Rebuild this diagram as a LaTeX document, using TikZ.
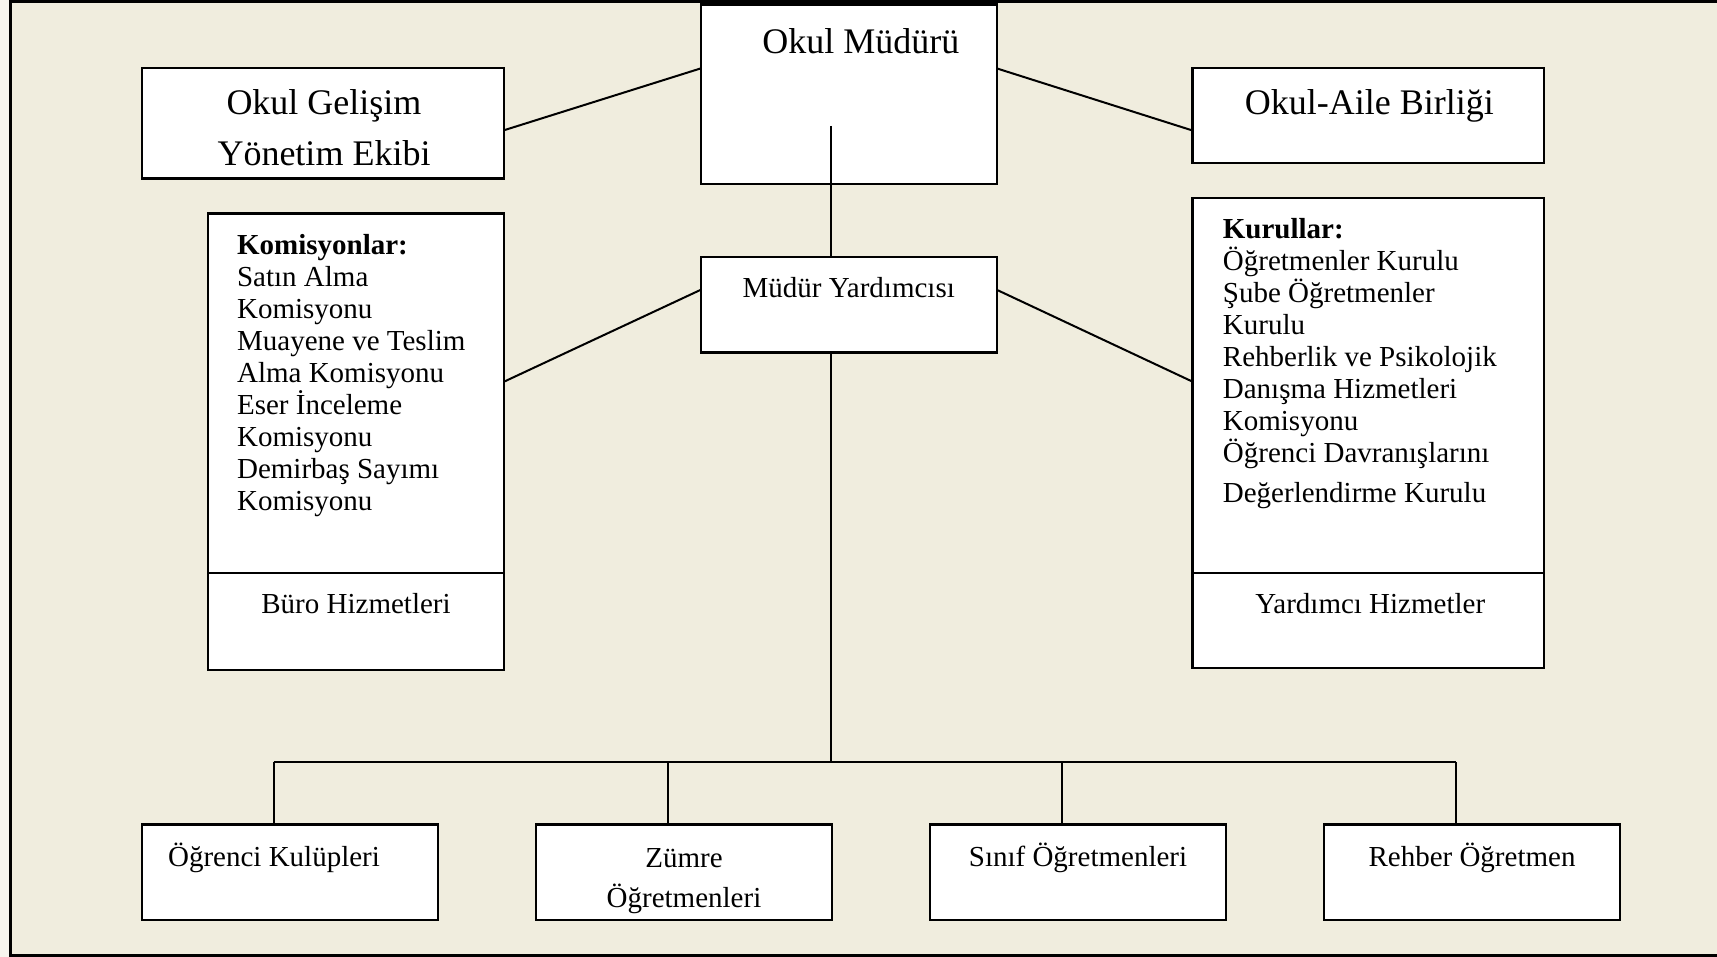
\documentclass[tikz,border=0pt]{standalone}
\usepackage{fontspec}
\setmainfont{Liberation Serif}
\usetikzlibrary{positioning,calc}
\definecolor{paper}{RGB}{240,237,222}
\definecolor{paperedge}{RGB}{247,245,238}

\begin{document}
\begin{tikzpicture}
            [x=0.5pt,y=-0.5pt,
            unit/.style={draw,fill=white,line width=1.2pt,inner sep=0pt,outer sep=0pt,minimum width=148pt},
            big/.style={font=\fontsize{18}{25.5}\selectfont,inner sep=0pt},
            small/.style={font=\fontsize{14.5}{16}\selectfont,inner sep=0pt},
            link/.style={line width=1pt}
            ]
            \useasboundingbox (0,0) rectangle (1717,957);
            \fill[paperedge] (0,0) rectangle (1717,957);
            \fill[paper] (10,2) rectangle (1717,955.3);
            \draw[line width=1.5pt] (1717,2) -- (10,2) -- (10,955.3) -- (1717,955.3);
            % boxes
            \node[unit,minimum height=89.8pt] (om) at (848.75,94.2) {};
            \node[unit,minimum width=181pt,minimum height=55.25pt] (oge) at (323,123.25) {};
            \node[unit,minimum width=175.75pt,minimum height=47.5pt] (oab) at (1368.25,115.5) {};
            \node[unit,minimum height=47.8pt] (my) at (848.75,304.8) {};
            \node[unit,minimum height=179.6pt] (kom) at (356,393.1) {};
            \node[unit,minimum height=48.65pt,below=0pt of kom] (buro) {};
            \node[unit,minimum width=175.75pt,minimum height=187.35pt] (kur) at (1368.25,385.35) {};
            \node[unit,minimum width=175.75pt,minimum height=47.65pt,below=0pt of kur] (yard) {};
            \node[unit,minimum height=47.75pt] (ogk) at (290,872.25) {};
            \node[unit,minimum height=47.75pt,right=49pt of ogk] (zum) {};
            \node[unit,minimum height=47.75pt,right=49pt of zum] (sin) {};
            \node[unit,minimum height=47.75pt,right=49pt of sin] (reh) {};
            % texts
            \node[big,anchor=base] at ($(om.north)+(12,49.5)$) {Okul Müdürü};
            \node[big,anchor=north,align=center] at ($(oge.north)+(1,21.5)$) {Okul Gelişim\\Yönetim Ekibi};
            \node[big,anchor=base] at ($(oab.north)+(1,47)$) {Okul-Aile Birliği};
            \node[small,anchor=base] at ($(my.north)+(0,40.5)$) {Müdür Yardımcısı};
            \node[small,anchor=north west,align=left] at ($(kom.north west)+(28.7,20)$)
              {\textbf{Komisyonlar:}\\Satın Alma\\Komisyonu\\Muayene ve Teslim\\Alma Komisyonu\\Eser İnceleme\\Komisyonu\\Demirbaş Sayımı\\Komisyonu};
            \node[small,anchor=base] at ($(buro.north)+(0,41)$) {Büro Hizmetleri};
            \node[small,anchor=north west,align=left] at ($(kur.north west)+(30,19.7)$)
              {\textbf{Kurullar:}\\Öğretmenler Kurulu\\Şube Öğretmenler\\Kurulu\\Rehberlik ve Psikolojik\\Danışma Hizmetleri\\Komisyonu\\Öğrenci Davranışlarını\\[4pt]Değerlendirme Kurulu};
            \node[small,anchor=base] at ($(yard.north)+(2,41)$) {Yardımcı Hizmetler};
            \node[small,anchor=base] at ($(ogk.north)+(-16,42)$) {Öğrenci Kulüpleri};
            \node[small,anchor=north,align=center,font=\fontsize{14.5}{20}\selectfont] at ($(zum.north)+(0,23.5)$) {Zümre\\Öğretmenleri};
            \node[small,anchor=base] at ($(sin.north)+(0,42)$) {Sınıf Öğretmenleri};
            \node[small,anchor=base] at ($(reh.north)+(0,42)$) {Rehber Öğretmen};
            % connectors
            \draw[link] ($(oge.east)+(0,7)$) -- ($(om.north west)+(0,64)$);
            \draw[link] ($(om.north east)+(0,64)$) -- ($(oab.west)+(0,15)$);
            \draw[link] ($(my.west)+(0,-15)$) -- ($(kom.east)+(0,-11.4)$);
            \draw[link] ($(my.east)+(0,-15)$) -- ($(kur.west)+(0,-3.7)$);
            \coordinate (omc) at ($(om.south)+(-17.75,-58)$);
            \coordinate (busl) at ($(ogk.north)+(-16.5,-62.8)$);
            \coordinate (busr) at ($(reh.north)+(-16.5,-62.8)$);
            \draw[link] (omc) -- (omc |- my.north);
            \draw[link] (omc |- my.south) -- (omc |- busl);
            \draw[link] (busl) -- (busr);
            \foreach \b in {ogk,zum,sin,reh}
              \draw[link] ($(\b.north)+(-16.5,0)$) -- ++(0,-62.8);
          \end{tikzpicture}
\end{document}
